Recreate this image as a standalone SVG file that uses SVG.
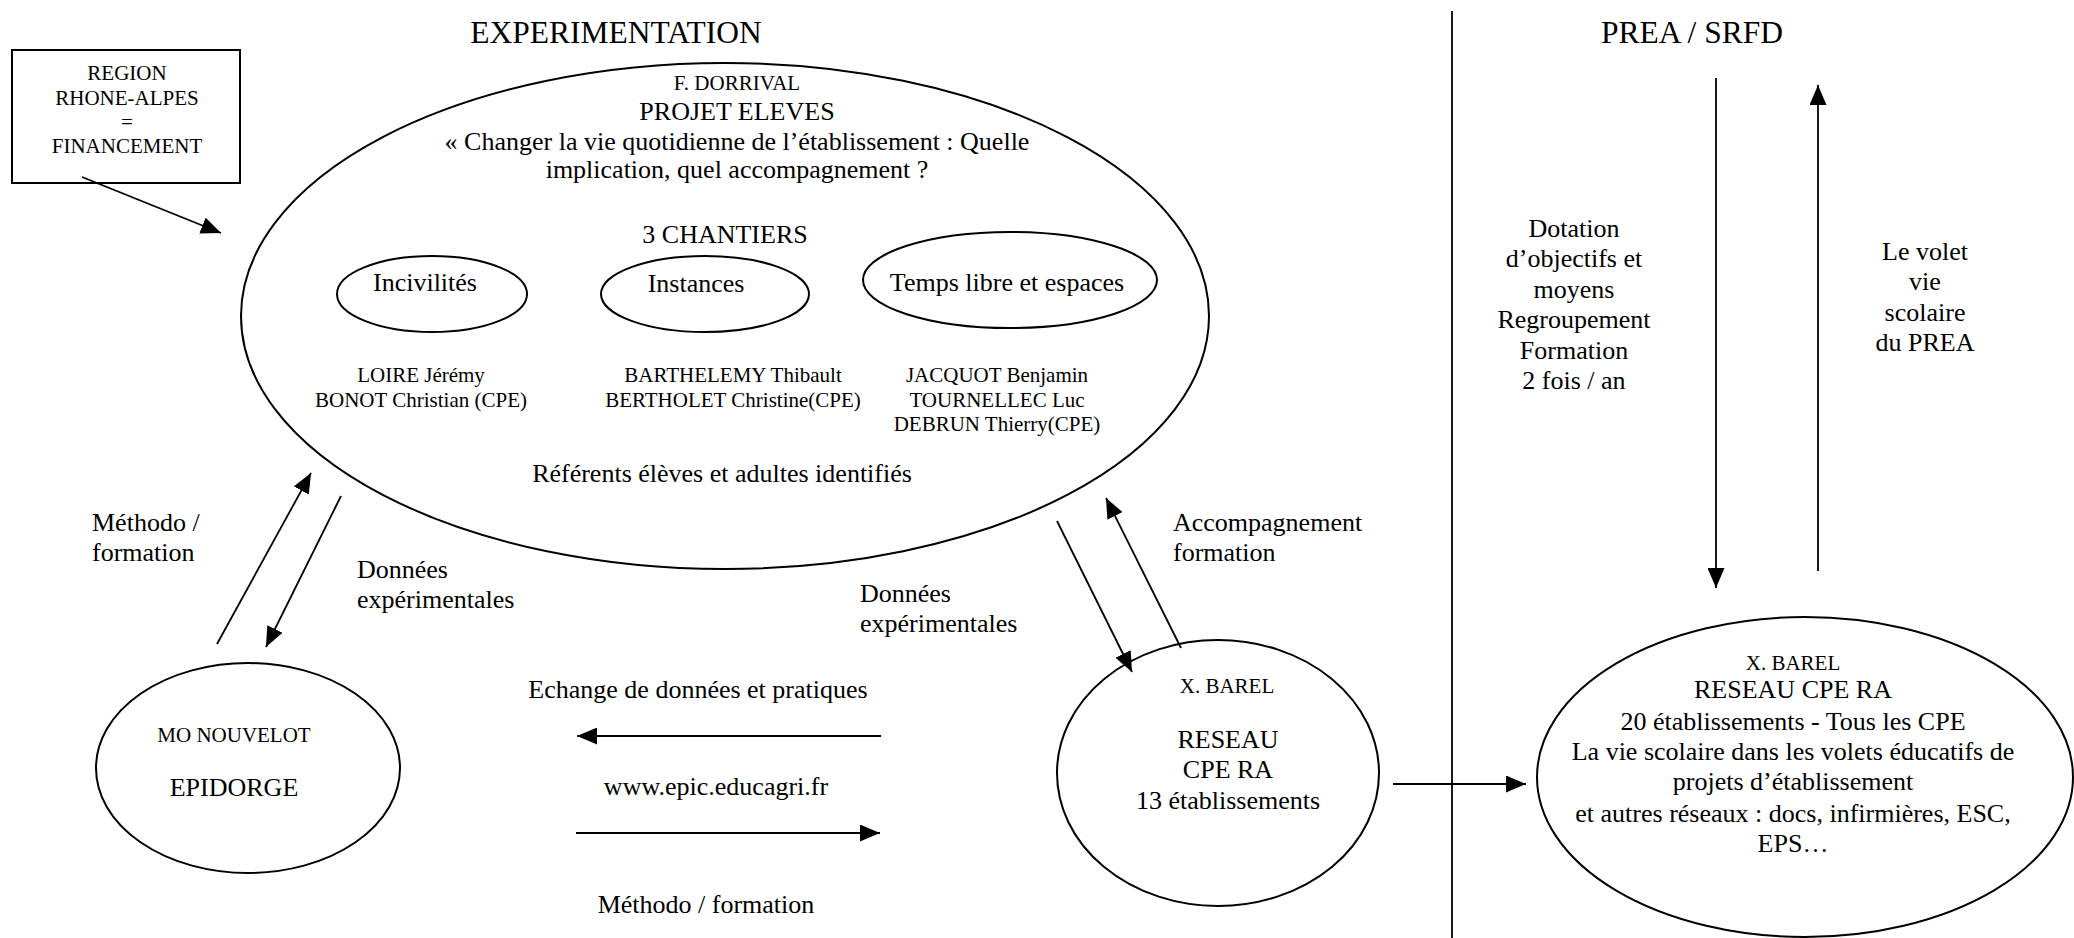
<svg xmlns="http://www.w3.org/2000/svg" width="2074" height="938" viewBox="0 0 2074 938">
<style>
text{font-family:"Liberation Serif","Times New Roman",serif;fill:#000;text-anchor:middle}
.m{font-size:26px}
.s{font-size:21px}
.h{font-size:31.5px}
.l{text-anchor:start}
.shape{fill:#fff;stroke:#000;stroke-width:2}
.ln{fill:none;stroke:#000;stroke-width:1.8}
.arr{marker-end:url(#ah)}
</style>
<defs>
<marker id="ah" markerUnits="userSpaceOnUse" markerWidth="20" markerHeight="17" refX="20" refY="8.5" orient="auto">
<path d="M0,0 L20,8.5 L0,17 z" fill="#000"/>
</marker>
</defs>
<rect width="2074" height="938" fill="#fff"/>

<g id="titles">
<text class="h" x="616" y="43">EXPERIMENTATION</text>
<text class="h" x="1692" y="43">PREA / SRFD</text>
<line class="ln" x1="1452" y1="11" x2="1452" y2="938"/>
</g>

<g id="region">
<rect class="shape" x="12" y="50" width="228" height="133"/>
<text class="s" x="127" y="80">REGION</text>
<text class="s" x="127" y="105">RHONE-ALPES</text>
<text class="s" x="127" y="129">=</text>
<text class="s" x="127" y="153">FINANCEMENT</text>
</g>

<g id="projet">
<ellipse class="shape" cx="725" cy="316" rx="484" ry="253"/>
<text class="s" x="737" y="90">F. DORRIVAL</text>
<text class="m" x="737" y="120">PROJET ELEVES</text>
<text class="m" x="737" y="150">« Changer la vie quotidienne de l’établissement : Quelle</text>
<text class="m" x="737" y="178">implication, quel accompagnement ?</text>
<text class="m" x="725" y="243">3 CHANTIERS</text>
<g id="incivilites">
<ellipse class="shape" cx="432" cy="294" rx="95" ry="38"/>
<text class="m" x="425" y="291">Incivilités</text>
</g>
<g id="instances">
<ellipse class="shape" cx="705" cy="294" rx="104" ry="38"/>
<text class="m" x="696" y="292">Instances</text>
</g>
<g id="temps">
<ellipse class="shape" cx="1010" cy="280" rx="147" ry="48"/>
<text class="m" x="1007" y="291">Temps libre et espaces</text>
</g>
<text class="s" x="421" y="382">LOIRE Jérémy</text>
<text class="s" x="421" y="407">BONOT Christian (CPE)</text>
<text class="s" x="733" y="382">BARTHELEMY Thibault</text>
<text class="s" x="733" y="407">BERTHOLET Christine(CPE)</text>
<text class="s" x="997" y="382">JACQUOT Benjamin</text>
<text class="s" x="997" y="407">TOURNELLEC Luc</text>
<text class="s" x="997" y="431">DEBRUN Thierry(CPE)</text>
<text class="m" x="722" y="482">Référents élèves et adultes identifiés</text>
</g>

<g id="epidorge">
<ellipse class="shape" cx="248" cy="768" rx="152" ry="105"/>
<text class="s" x="234" y="742">MO NOUVELOT</text>
<text class="m" x="234" y="796">EPIDORGE</text>
</g>

<g id="reseau13">
<ellipse class="shape" cx="1218" cy="773" rx="161" ry="133"/>
<text class="s" x="1227" y="693">X. BAREL</text>
<text class="m" x="1228" y="748">RESEAU</text>
<text class="m" x="1228" y="778">CPE RA</text>
<text class="m" x="1228" y="809">13 établissements</text>
</g>

<g id="reseau20">
<ellipse class="shape" cx="1805" cy="777" rx="268" ry="160"/>
<text class="s" x="1793" y="670">X. BAREL</text>
<text class="m" x="1793" y="698">RESEAU CPE RA</text>
<text class="m" x="1793" y="730">20 établissements - Tous les CPE</text>
<text class="m" x="1793" y="760">La vie scolaire dans les volets éducatifs de</text>
<text class="m" x="1793" y="790">projets d’établissement</text>
<text class="m" x="1793" y="822">et autres réseaux : docs, infirmières, ESC,</text>
<text class="m" x="1793" y="852">EPS…</text>
</g>

<g id="connectors">
<line class="ln arr" x1="82" y1="177" x2="221" y2="233"/>
<line class="ln arr" x1="217" y1="644" x2="311" y2="473"/>
<line class="ln arr" x1="341" y1="496" x2="266" y2="647"/>
<line class="ln arr" x1="1057" y1="521" x2="1132" y2="672"/>
<line class="ln arr" x1="1181" y1="648" x2="1106" y2="498"/>
<line class="ln arr" x1="881" y1="736" x2="577" y2="736"/>
<line class="ln arr" x1="576" y1="833" x2="880" y2="833"/>
<line class="ln arr" x1="1393" y1="784" x2="1526" y2="784"/>
<line class="ln arr" x1="1716" y1="78" x2="1716" y2="588"/>
<line class="ln arr" x1="1818" y1="571" x2="1818" y2="85"/>
</g>

<g id="labels">
<text class="m l" x="92" y="531">Méthodo /</text>
<text class="m l" x="92" y="561">formation</text>
<text class="m l" x="357" y="578">Données</text>
<text class="m l" x="357" y="608">expérimentales</text>
<text class="m l" x="860" y="602">Données</text>
<text class="m l" x="860" y="632">expérimentales</text>
<text class="m l" x="1173" y="531">Accompagnement</text>
<text class="m l" x="1173" y="561">formation</text>
<text class="m" x="698" y="698">Echange de données et pratiques</text>
<text class="m" x="716" y="795">www.epic.educagri.fr</text>
<text class="m" x="706" y="913">Méthodo / formation</text>
<text class="m" x="1574" y="237">Dotation</text>
<text class="m" x="1574" y="267">d’objectifs et</text>
<text class="m" x="1574" y="298">moyens</text>
<text class="m" x="1574" y="328">Regroupement</text>
<text class="m" x="1574" y="359">Formation</text>
<text class="m" x="1574" y="389">2 fois / an</text>
<text class="m" x="1925" y="260">Le volet</text>
<text class="m" x="1925" y="290">vie</text>
<text class="m" x="1925" y="321">scolaire</text>
<text class="m" x="1925" y="351">du PREA</text>
</g>
</svg>
